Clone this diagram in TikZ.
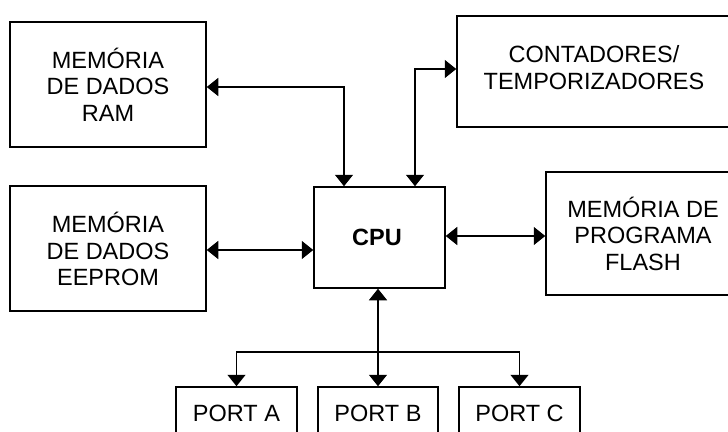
\documentclass[tikz,border=0pt]{standalone}
\usepackage{fontspec}
\setmainfont{Liberation Sans}
\usetikzlibrary{arrows.meta}

\tikzset{
  >={Triangle[length=11.5pt, width=18pt]},
  box/.style={draw, line width=1.5pt, inner sep=0pt},
  lbl/.style={font=\fontsize{23.5}{26.5}\selectfont, align=center, inner sep=0pt},
  link/.style={line width=1.5pt, <->},
  feed/.style={line width=1.5pt, ->}
}

\begin{document}
\begin{tikzpicture}[x=1pt, y=-1pt]
  \useasboundingbox (0,0) rectangle (728,431);
  \clip (0,0) rectangle (728,431);

  % blocks
  \node[box, minimum width=196pt, minimum height=125pt] (ram) at (108,84.5) {};
  \node[lbl] (ramtxt) at (108,84.5) {MEMÓRIA\\DE DADOS\\RAM};

  \node[box, minimum width=196pt, minimum height=125pt] (eep) at (108,248.5) {};
  \node[lbl] (eeptxt) at (108,249) {MEMÓRIA\\DE DADOS\\EEPROM};

  \node[box, minimum width=131pt, minimum height=101pt] (cpu) at (379.5,237.5) {};
  \node[lbl, font=\fontsize{23.5}{26.5}\selectfont\bfseries] (cputxt) at (377,237) {CPU};

  \node[box, minimum width=274pt, minimum height=111pt] (tmr) at (594,71.5) {};
  \node[lbl] (tmrtxt) at (594,67.5) {CONTADORES/\\TEMPORIZADORES};

  \node[box, minimum width=194pt, minimum height=123pt] (fla) at (643,233.5) {};
  \node[lbl] (flatxt) at (643,233.5) {MEMÓRIA DE\\PROGRAMA\\FLASH};

  \node[box, minimum width=121pt, minimum height=52pt] (pa) at (236.5,413) {};
  \node[lbl] (patxt) at (236.5,413) {PORT A};
  \node[box, minimum width=120pt, minimum height=52pt] (pb) at (378,413) {};
  \node[lbl] (pbtxt) at (378,413) {PORT B};
  \node[box, minimum width=121pt, minimum height=52pt] (pc) at (519.5,413) {};
  \node[lbl] (pctxt) at (519.5,413) {PORT C};

  % buses
  \draw[link] ([yshift=-2.5pt]ram.east) -| ([xshift=-35.5pt]cpu.north);
  \draw[link] ([xshift=35.5pt]cpu.north) |- ([yshift=2.5pt]tmr.west);
  \draw[link] ([yshift=-1.5pt]eep.east) -- ([yshift=-1.5pt]eep.east -| cpu.west);
  \draw[link] ([yshift=1.5pt]cpu.east) -- ([yshift=1.5pt]cpu.east -| fla.west);
  \draw[link] (pb.north |- cpu.south) -- (pb.north);
  \coordinate (bus) at (378,352);
  \draw[feed] (bus) -| (pa.north);
  \draw[feed] (bus) -| (pc.north);
\end{tikzpicture}
\end{document}
